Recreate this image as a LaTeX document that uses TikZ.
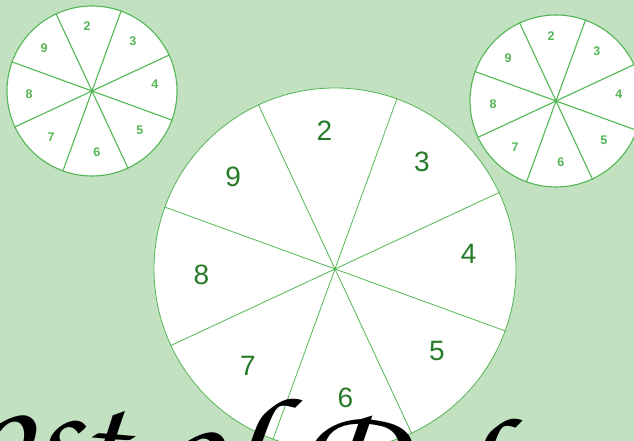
\documentclass[tikz,border=0pt]{standalone}
\usepackage{fontspec}
\setmainfont{Liberation Sans}
\usepackage{tikz}
\usetikzlibrary{positioning}
\definecolor{mintbg}{RGB}{193,225,192}
\definecolor{wheelgreen}{RGB}{84,182,84}
\definecolor{numdark}{RGB}{38,122,40}
\tikzset{
  wheel/.style={circle, draw=wheelgreen, fill=white, inner sep=0pt},
  spoke/.style={draw=wheelgreen, line width=0.8pt},
  bignum/.style={font=\fontsize{28}{28}\selectfont, text=numdark},
  smallnum/.style={font=\fontsize{12.5}{13}\selectfont\bfseries, text=wheelgreen},
  scripttxt/.style={font=\fontencoding{OT1}\fontfamily{pzc}\fontseries{mb}\fontshape{it}\fontsize{150}{150}\selectfont,
                    anchor=base west, inner sep=0pt, text=black}
}

\begin{document}
\begin{tikzpicture}[x=1pt,y=1pt]
    \useasboundingbox (0,0) rectangle (634,441);
    \fill[mintbg] (0,0) rectangle (634,441);
    \clip (0,0) rectangle (634,441);
    % the three wheels
    \node[wheel, minimum size=362pt, line width=0.8pt] (big) at (335,172) {};
    \node[wheel, minimum size=170pt, line width=1.1pt] (left) at (92,350) {};
    \node[wheel, minimum size=172pt, line width=1.1pt] (right) at (556,340) {};
    \foreach \a in {25,70,...,340} \draw[spoke] (big.center) -- (big.\a);
    \foreach \w in {left,right}
      \foreach \a in {25,70,...,340} \draw[spoke, line width=1.1pt] (\w.center) -- (\w.\a);
    % numbers
    \foreach \n in {2,...,9} \node[bignum] (b\n) at ([shift={(0,5)},shift={({94.5-45*(\n-2)}:134)}]big.center) {\n};
    \foreach \w in {left,right}
      \foreach \n in {2,...,9} \node[smallnum] (\w\n) at ([shift={(0,2)},shift={({94.5-45*(\n-2)}:63)}]\w.center) {\n};
    % handwritten title, cut by the frame
    \node[scripttxt, rotate=-5] (title) at (-112,-25) {Cost of Delay};
  \end{tikzpicture}
\end{document}
